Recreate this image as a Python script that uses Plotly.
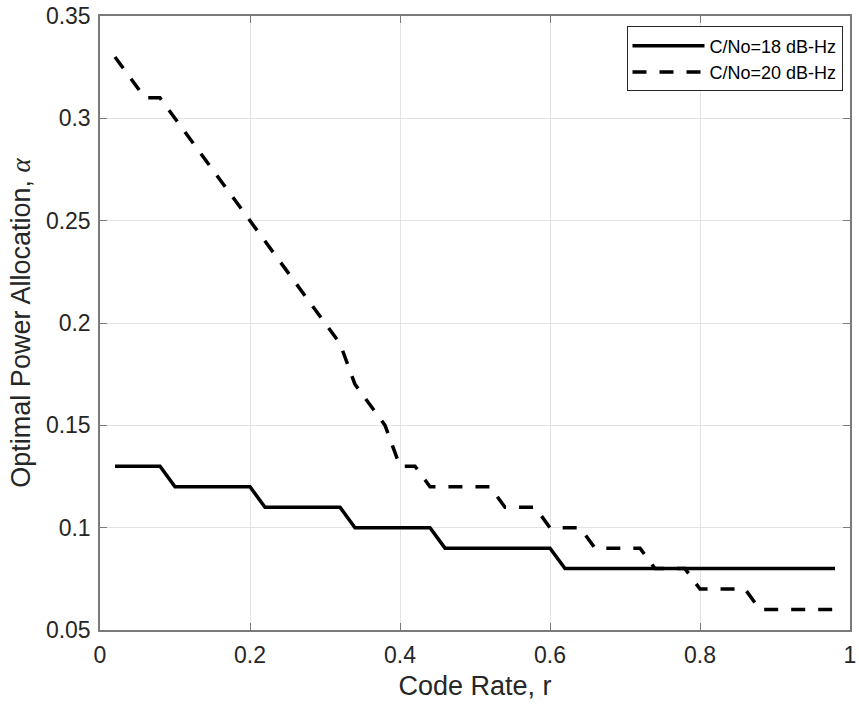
import plotly.graph_objects as go

code_rate = [0.02, 0.04, 0.06, 0.08, 0.10, 0.12, 0.14, 0.16, 0.18, 0.20,
             0.22, 0.24, 0.26, 0.28, 0.30, 0.32, 0.34, 0.36, 0.38, 0.40,
             0.42, 0.44, 0.46, 0.48, 0.50, 0.52, 0.54, 0.56, 0.58, 0.60,
             0.62, 0.64, 0.66, 0.68, 0.70, 0.72, 0.74, 0.76, 0.78, 0.80,
             0.82, 0.84, 0.86, 0.88, 0.90, 0.92, 0.94, 0.96, 0.98]

alpha_18 = [0.13, 0.13, 0.13, 0.13, 0.12, 0.12, 0.12, 0.12, 0.12, 0.12,
            0.11, 0.11, 0.11, 0.11, 0.11, 0.11, 0.10, 0.10, 0.10, 0.10,
            0.10, 0.10, 0.09, 0.09, 0.09, 0.09, 0.09, 0.09, 0.09, 0.09,
            0.08, 0.08, 0.08, 0.08, 0.08, 0.08, 0.08, 0.08, 0.08, 0.08,
            0.08, 0.08, 0.08, 0.08, 0.08, 0.08, 0.08, 0.08, 0.08]

alpha_20 = [0.33, 0.32, 0.31, 0.31, 0.30, 0.29, 0.28, 0.27, 0.26, 0.25,
            0.24, 0.23, 0.22, 0.21, 0.20, 0.19, 0.17, 0.16, 0.15, 0.13,
            0.13, 0.12, 0.12, 0.12, 0.12, 0.12, 0.11, 0.11, 0.11, 0.10,
            0.10, 0.10, 0.09, 0.09, 0.09, 0.09, 0.08, 0.08, 0.08, 0.07,
            0.07, 0.07, 0.07, 0.06, 0.06, 0.06, 0.06, 0.06, 0.06]

series_names = ["C/No=18 dB-Hz", "C/No=20 dB-Hz"]

x_tickvals = [0, 0.2, 0.4, 0.6, 0.8, 1.0]
x_ticktext = ["0", "0.2", "0.4", "0.6", "0.8", "1"]
y_tickvals = [0.05, 0.10, 0.15, 0.20, 0.25, 0.30, 0.35]
y_ticktext = ["0.05", "0.1", "0.15", "0.2", "0.25", "0.3", "0.35"]

FONT = "Liberation Sans, Arial, Helvetica, sans-serif"
AX = "#262626"
AXLINE = "#7a7a7a"
GRID = "#e3e3e3"

fig = go.Figure()
fig.add_trace(go.Scatter(x=code_rate, y=alpha_18, mode="lines", name=series_names[0],
                         line=dict(color="black", width=3.5)))
fig.add_trace(go.Scatter(x=code_rate, y=alpha_20, mode="lines", name=series_names[1],
                         line=dict(color="black", width=3.5, dash="14px,13px")))

axis_common = dict(
    showline=True, linecolor=AXLINE, linewidth=1.5, mirror="ticks",
    ticks="inside", ticklen=7, tickwidth=1, tickcolor=AXLINE,
    showgrid=True, gridcolor=GRID, gridwidth=1, zeroline=False,
    tickfont=dict(family=FONT, size=23, color=AX),
    ticklabeloverflow="allow",
)

fig.update_xaxes(range=[0, 1], tickvals=x_tickvals, ticktext=x_ticktext,
                 ticklabelstandoff=4,
                 title=dict(text="Code Rate, r", font=dict(family=FONT, size=27, color=AX), standoff=9),
                 **axis_common)
fig.update_yaxes(range=[0.05, 0.35], tickvals=y_tickvals, ticktext=y_ticktext,
                 ticklabelstandoff=3,
                 title=dict(text="Optimal Power Allocation, <span style=\"font-family:Liberation Serif\"><i>α</i></span>",
                            font=dict(family=FONT, size=27, color=AX), standoff=7),
                 **axis_common)

fig.update_layout(
    width=859, height=704, autosize=False,
    margin=dict(l=100, r=3, t=14, b=74),
    plot_bgcolor="white", paper_bgcolor="white",
    showlegend=True,
    legend=dict(x=0.99, y=0.983, xanchor="right", yanchor="top",
                bgcolor="white", bordercolor=AX, borderwidth=1,
                font=dict(family=FONT, size=18, color="black"),
                tracegroupgap=0, itemwidth=72),
)

fig.write_html("out.html")
